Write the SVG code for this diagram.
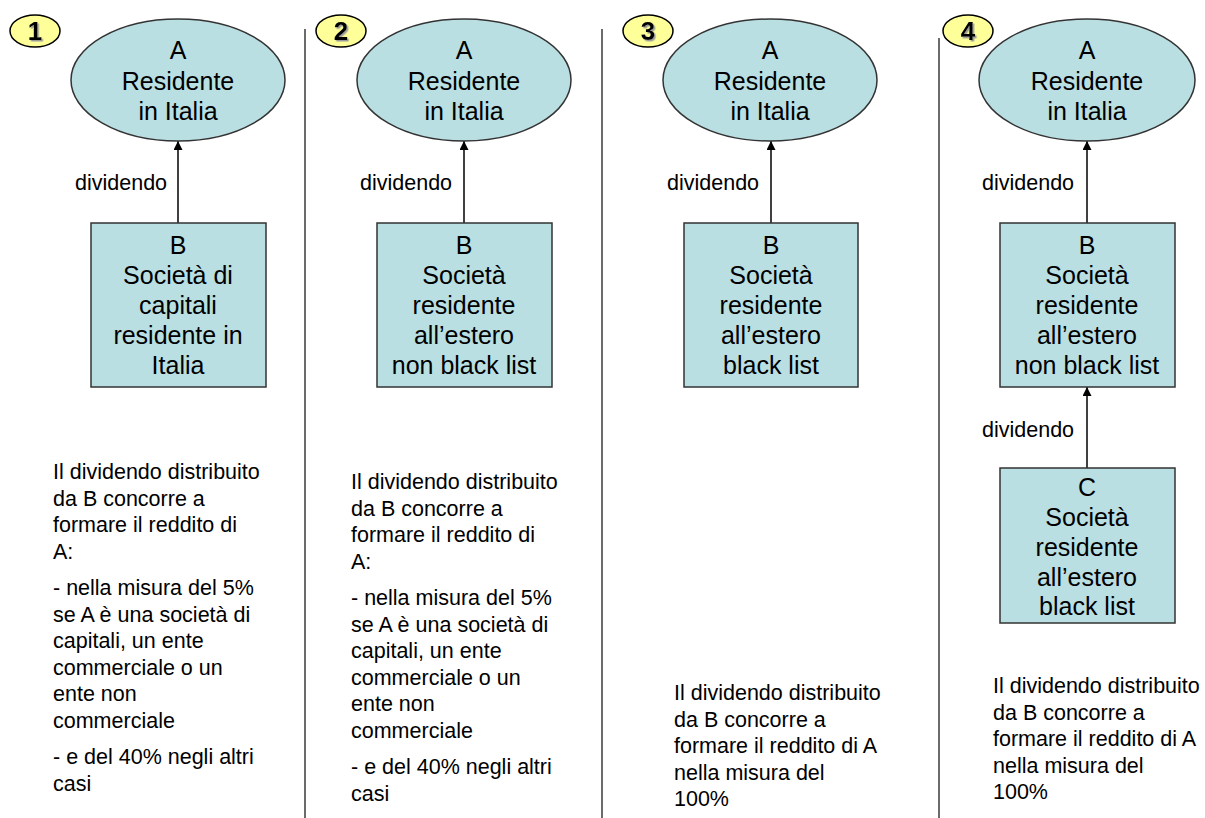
<svg xmlns="http://www.w3.org/2000/svg" width="1205" height="818" viewBox="0 0 1205 818">
<style>
.bg{fill:#ffffff}
.sep{stroke:#3a3a3a;stroke-width:1.5;fill:none}
.badge{fill:#ffff99;stroke:#000000;stroke-width:1.5}
.num{font-family:"Liberation Sans",Arial,sans-serif;font-size:26px;font-weight:bold;fill:#000000;text-anchor:middle}
.ell{fill:#badfe2;stroke:#333333;stroke-width:1.5}
.box{fill:#badfe2;stroke:#333333;stroke-width:1.5}
.nt{font-family:"Liberation Sans",Arial,sans-serif;font-size:25px;fill:#000000;text-anchor:middle}
.lbl{font-family:"Liberation Sans",Arial,sans-serif;font-size:21.5px;fill:#000000}
.body{font-family:"Liberation Sans",Arial,sans-serif;font-size:21.5px;fill:#000000}
.conn{stroke:#000000;stroke-width:1.5;fill:none;marker-end:url(#arr)}
</style>
<defs>
<marker id="arr" viewBox="0 0 10 10" refX="10" refY="5" markerWidth="10" markerHeight="9" markerUnits="userSpaceOnUse" orient="auto">
<path d="M0,0 L10,5 L0,10 z" fill="#000000"/>
</marker>
<filter id="sh" x="-20%" y="-20%" width="150%" height="150%">
<feDropShadow dx="1.5" dy="1.5" stdDeviation="0" flood-color="#9a9a9a"/>
</filter>
</defs>
<rect class="bg" x="0" y="0" width="1205" height="818"/>

<g id="separators">
<line class="sep" x1="305" y1="29" x2="305" y2="818"/>
<line class="sep" x1="602" y1="29" x2="602" y2="818"/>
<line class="sep" x1="939" y1="38" x2="939" y2="818"/>
</g>

<g id="connectors">
<line class="conn" x1="178" y1="223" x2="178" y2="141"/>
<line class="conn" x1="464" y1="223" x2="464" y2="141"/>
<line class="conn" x1="771" y1="223" x2="771" y2="141"/>
<line class="conn" x1="1087" y1="223" x2="1087" y2="141"/>
<line class="conn" x1="1087" y1="468" x2="1087" y2="387"/>
<text class="lbl" x="75" y="190">dividendo</text>
<text class="lbl" x="360" y="190">dividendo</text>
<text class="lbl" x="667" y="190">dividendo</text>
<text class="lbl" x="982" y="190">dividendo</text>
<text class="lbl" x="982" y="437">dividendo</text>
</g>

<!-- Panel 1 -->
<g id="badge1">
<ellipse class="badge" cx="35" cy="31" rx="25" ry="16"/>
<text class="num" x="35" y="40" filter="url(#sh)">1</text>
</g>
<g id="p1-A">
<ellipse class="ell" cx="178" cy="80" rx="107" ry="61"/>
<text class="nt" x="178" y="59">A</text>
<text class="nt" x="178" y="90">Residente</text>
<text class="nt" x="178" y="120">in Italia</text>
</g>
<g id="p1-B">
<rect class="box" x="91" y="223" width="175" height="164"/>
<text class="nt" x="178" y="254">B</text>
<text class="nt" x="178" y="284">Società di</text>
<text class="nt" x="178" y="314">capitali</text>
<text class="nt" x="178" y="344">residente in</text>
<text class="nt" x="178" y="374">Italia</text>
</g>
<g id="p1-note">
<text class="body" x="53" y="479">Il dividendo distribuito</text>
<text class="body" x="53" y="505.5">da B concorre a</text>
<text class="body" x="53" y="532">formare il reddito di</text>
<text class="body" x="53" y="558.5">A:</text>
<text class="body" x="53" y="595">- nella misura del 5%</text>
<text class="body" x="53" y="621.5">se A è una società di</text>
<text class="body" x="53" y="648">capitali, un ente</text>
<text class="body" x="53" y="674.5">commerciale o un</text>
<text class="body" x="53" y="701">ente non</text>
<text class="body" x="53" y="727.5">commerciale</text>
<text class="body" x="53" y="764">- e del 40% negli altri</text>
<text class="body" x="53" y="790.5">casi</text>
</g>

<!-- Panel 2 -->
<g id="badge2">
<ellipse class="badge" cx="341" cy="31" rx="25" ry="16"/>
<text class="num" x="341" y="40" filter="url(#sh)">2</text>
</g>
<g id="p2-A">
<ellipse class="ell" cx="464" cy="80" rx="107" ry="61"/>
<text class="nt" x="464" y="59">A</text>
<text class="nt" x="464" y="90">Residente</text>
<text class="nt" x="464" y="120">in Italia</text>
</g>
<g id="p2-B">
<rect class="box" x="377" y="223" width="175" height="164"/>
<text class="nt" x="464" y="254">B</text>
<text class="nt" x="464" y="284">Società</text>
<text class="nt" x="464" y="314">residente</text>
<text class="nt" x="464" y="344">all’estero</text>
<text class="nt" x="464" y="374">non black list</text>
</g>
<g id="p2-note">
<text class="body" x="351" y="489">Il dividendo distribuito</text>
<text class="body" x="351" y="515.5">da B concorre a</text>
<text class="body" x="351" y="542">formare il reddito di</text>
<text class="body" x="351" y="568.5">A:</text>
<text class="body" x="351" y="605">- nella misura del 5%</text>
<text class="body" x="351" y="631.5">se A è una società di</text>
<text class="body" x="351" y="658">capitali, un ente</text>
<text class="body" x="351" y="684.5">commerciale o un</text>
<text class="body" x="351" y="711">ente non</text>
<text class="body" x="351" y="737.5">commerciale</text>
<text class="body" x="351" y="774">- e del 40% negli altri</text>
<text class="body" x="351" y="800.5">casi</text>
</g>

<!-- Panel 3 -->
<g id="badge3">
<ellipse class="badge" cx="648" cy="31" rx="25" ry="16"/>
<text class="num" x="648" y="40" filter="url(#sh)">3</text>
</g>
<g id="p3-A">
<ellipse class="ell" cx="770" cy="80" rx="107" ry="61"/>
<text class="nt" x="770" y="59">A</text>
<text class="nt" x="770" y="90">Residente</text>
<text class="nt" x="770" y="120">in Italia</text>
</g>
<g id="p3-B">
<rect class="box" x="684" y="223" width="174" height="164"/>
<text class="nt" x="771" y="254">B</text>
<text class="nt" x="771" y="284">Società</text>
<text class="nt" x="771" y="314">residente</text>
<text class="nt" x="771" y="344">all’estero</text>
<text class="nt" x="771" y="374">black list</text>
</g>
<g id="p3-note">
<text class="body" x="674" y="700">Il dividendo distribuito</text>
<text class="body" x="674" y="726.5">da B concorre a</text>
<text class="body" x="674" y="753">formare il reddito di A</text>
<text class="body" x="674" y="779.5">nella misura del</text>
<text class="body" x="674" y="806">100%</text>
</g>

<!-- Panel 4 -->
<g id="badge4">
<ellipse class="badge" cx="968" cy="31" rx="25" ry="16"/>
<text class="num" x="968" y="40" filter="url(#sh)">4</text>
</g>
<g id="p4-A">
<ellipse class="ell" cx="1087" cy="80" rx="108" ry="61"/>
<text class="nt" x="1087" y="59">A</text>
<text class="nt" x="1087" y="90">Residente</text>
<text class="nt" x="1087" y="120">in Italia</text>
</g>
<g id="p4-B">
<rect class="box" x="1000" y="223" width="175" height="164"/>
<text class="nt" x="1087" y="254">B</text>
<text class="nt" x="1087" y="284">Società</text>
<text class="nt" x="1087" y="314">residente</text>
<text class="nt" x="1087" y="344">all’estero</text>
<text class="nt" x="1087" y="374">non black list</text>
</g>
<g id="p4-C">
<rect class="box" x="1000" y="468" width="175" height="155"/>
<text class="nt" x="1087" y="496">C</text>
<text class="nt" x="1087" y="526">Società</text>
<text class="nt" x="1087" y="556">residente</text>
<text class="nt" x="1087" y="586">all’estero</text>
<text class="nt" x="1087" y="615">black list</text>
</g>
<g id="p4-note">
<text class="body" x="993" y="693">Il dividendo distribuito</text>
<text class="body" x="993" y="719.5">da B concorre a</text>
<text class="body" x="993" y="746">formare il reddito di A</text>
<text class="body" x="993" y="772.5">nella misura del</text>
<text class="body" x="993" y="799">100%</text>
</g>
</svg>
